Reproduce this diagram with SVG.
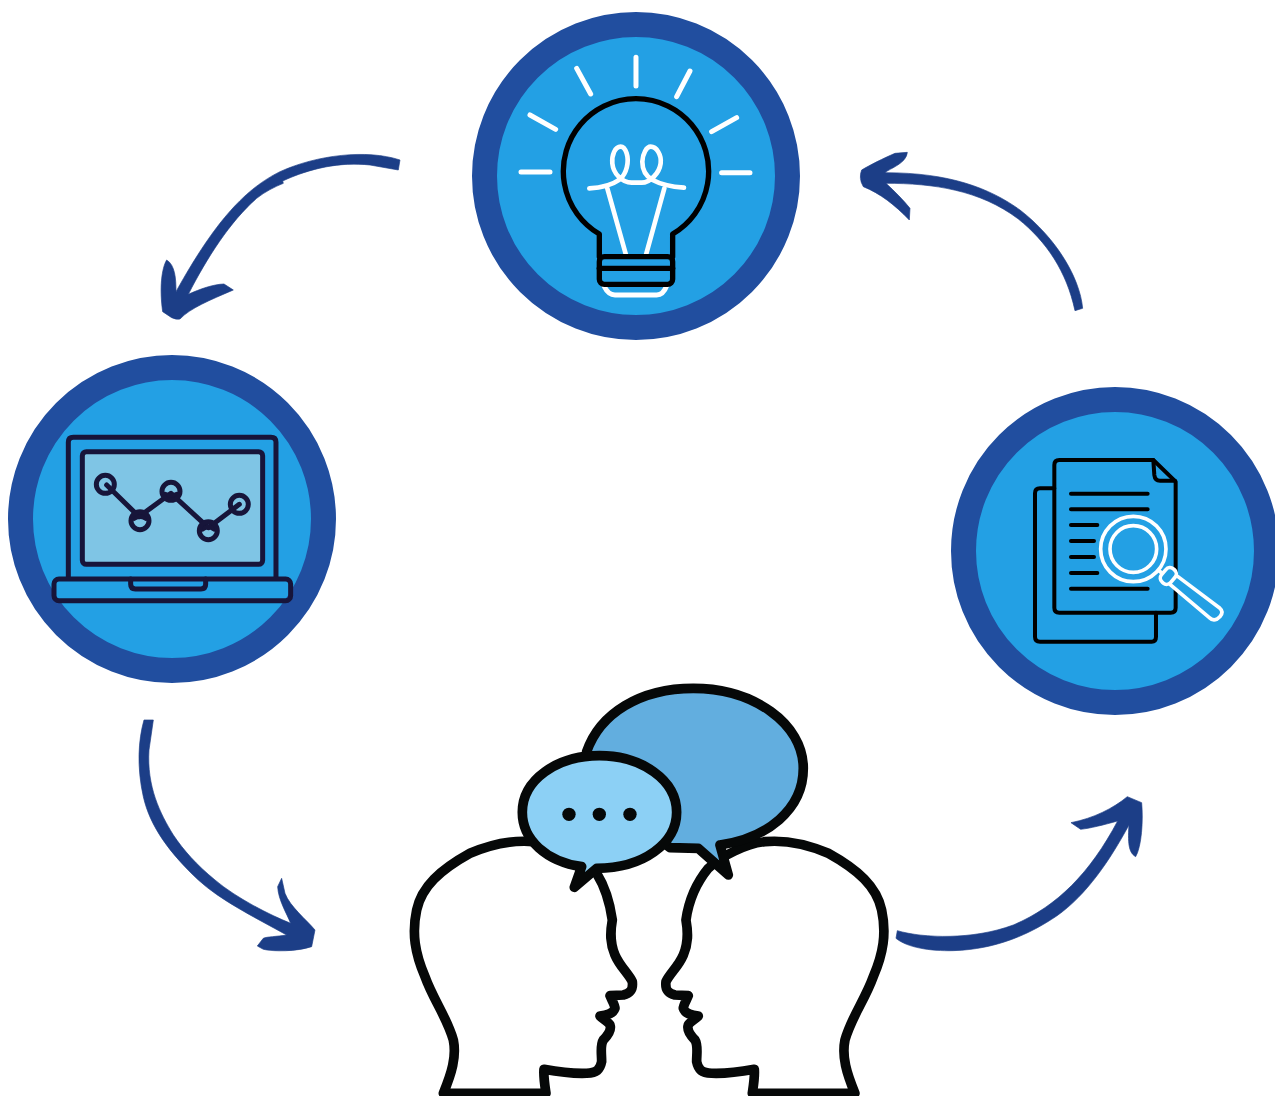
<svg xmlns="http://www.w3.org/2000/svg" width="1275" height="1096" viewBox="0 0 1275 1096">
<style>
.ring{fill:#23A0E4;stroke:#214E9F;stroke-width:25}
.arrow{fill:#1C3E87;stroke:#1C3E87;stroke-width:2;stroke-linejoin:round}
.w{fill:none;stroke:#fff;stroke-linecap:round;stroke-linejoin:round}
.k{fill:none;stroke:#000;stroke-linecap:round;stroke-linejoin:round}
.l{fill:none;stroke:#17153A;stroke-linecap:round;stroke-linejoin:round;stroke-width:15}
.h{fill:#fff;stroke:#060808;stroke-width:29;stroke-linejoin:round;stroke-linecap:butt}
</style>
<rect width="1275" height="1096" fill="#fff"/>
<g id="connectors">
<path class="arrow" transform="translate(150 145) scale(.3333)" d="M750,45C650,12 500,30 390,80C290,130 200,220 78,440C78,400 75,360 50,345C35,370 28,430 38,500L65,518Q80,525 90,522C120,490 180,465 250,435L222,417C190,418 150,432 115,448C170,340 240,230 320,160C345,140 375,125 400,115L398,108C480,70 570,50 660,60L745,75Z"/>
<path class="arrow" transform="translate(850 145) scale(.3333)" d="M698,490C690,400 620,280 510,195C420,130 300,83 105,83C120,70 170,55 172,22L135,25C100,40 60,60 35,75Q25,100 40,125C90,145 135,180 178,225L180,190C160,165 135,140 108,115C250,115 390,135 505,222C590,290 650,380 675,497Z"/>
<path class="arrow" transform="translate(130 710) scale(.3333)" d="M42,30C25,90 20,170 40,260C60,350 120,430 205,510C270,570 370,620 470,675C440,680 410,680 400,685L382,708L400,718C430,725 500,725 545,710L555,660C530,630 480,590 465,550L455,505L443,530C445,570 470,610 482,640C420,615 320,565 255,510C200,465 160,420 130,375C90,310 50,230 57,120L70,30Z"/>
<path class="arrow" transform="translate(890 790) scale(.3333)" d="M22,422C100,445 250,450 370,405C500,350 600,250 683,93C640,105 600,115 572,118L543,98C610,85 670,55 712,20L755,38C760,90 755,170 737,200C720,190 712,170 717,105C660,210 590,315 500,378C420,432 320,478 190,482C120,484 50,472 18,445Z"/>
</g>
<g id="node-idea">
<circle class="ring" cx="636" cy="176" r="151.5"/>
<g transform="translate(500 40) scale(.3333)">
<g class="w" stroke-width="15">
<path d="M408,52V138M230,85L272,162M570,93L530,170M90,225L167,268M710,233L635,275M63,396H150M665,398H750"/>
<path d="M312,738Q325,765 345,765H470Q490,765 500,738"/>
</g>
<g class="w" stroke-width="14">
<path d="M268,445C310,443 340,432 360,418C380,400 388,365 380,340C375,325 368,320 362,320C345,320 335,345 337,370C340,400 365,428 395,428L425,428C450,428 478,400 482,370C485,345 470,320 452,320C440,320 428,340 427,365C427,390 440,410 458,420C480,432 510,440 552,443"/>
<path d="M322,445L378,645M493,445L438,645"/>
</g>
<g class="k" stroke-width="16">
<path d="M298,650V582A218,218 0 1 1 518,582V650"/>
<rect x="298" y="650" width="220" height="83" rx="15"/>
<path d="M298,685H518"/>
</g>
</g>
</g>
<g id="node-analysis">
<circle class="ring" cx="172" cy="519" r="151.5"/>
<g transform="translate(40 425) scale(.3333)">
<path class="l" d="M85,460V52Q85,37 100,37H693Q708,37 708,52V460"/>
<rect class="l" x="127" y="80" width="541" height="338" rx="12" style="fill:#7FC5E5"/>
<rect class="l" x="42" y="462" width="710" height="65" rx="15"/>
<path class="l" d="M272,462V478Q272,492 286,492H483Q497,492 497,478V462"/>
<path class="l" d="M200,180L297,275L393,205L505,308L598,238"/>
<path class="l" d="M283,280Q300,268 317,280M376,208Q393,220 410,208M488,312Q505,300 522,312"/>
<g class="l"><circle cx="196" cy="178" r="27"/><circle cx="300" cy="287" r="27"/><circle cx="393" cy="199" r="27"/><circle cx="505" cy="317" r="27"/><circle cx="598" cy="238" r="27"/></g>
</g>
</g>
<g id="node-research">
<circle class="ring" cx="1115" cy="551" r="151.5"/>
<g transform="translate(1020 445) scale(.3333)">
<g class="k" stroke-width="12">
<path d="M103,130H60Q45,130 45,145V575Q45,590 60,590H395Q408,590 408,575V503"/>
<path d="M400,45H118Q103,45 103,60V488Q103,503 118,503H452Q467,503 467,488V110Z"/>
<path d="M400,45L403,90Q405,107 420,107H465"/>
<path d="M153,146H383M153,193H383M153,240H232M153,288H222M153,336H222M153,384H232M153,431H383"/>
</g>
<g class="w" stroke-width="11">
<circle cx="340" cy="312" r="98"/>
<circle cx="340" cy="312" r="70"/>
<path d="M418,378L435,392"/>
<path d="M470,392L600,490Q612,500 600,515L590,523Q578,528 568,518L450,418" style="fill:#23A0E4"/>
<rect x="-26" y="-18" width="52" height="36" rx="16" transform="translate(445 393) rotate(-50)" style="fill:#23A0E4"/>
</g>
</g>
</g>
<g id="node-discussion" transform="translate(400 680) scale(.3333)">
<path class="h" d="M130,1240C155,1180 170,1130 160,1080C140,1010 100,960 75,890C45,820 35,760 50,690C65,620 120,570 210,520C280,490 340,480 400,485C450,490 550,530 590,580C615,620 630,670 637,720C630,760 630,790 645,825C660,860 685,880 697,905C700,930 690,940 670,945L630,947C635,960 645,975 645,985C640,1000 625,1005 600,1008C610,1018 625,1025 630,1035C635,1050 625,1065 610,1080C600,1095 605,1120 605,1145C600,1170 590,1178 560,1180C510,1182 470,1175 432,1168C430,1190 435,1220 438,1240Z"/>
<path class="h" d="M1365,1240C1340,1180 1325,1130 1335,1080C1355,1010 1395,960 1420,890C1450,820 1460,760 1445,690C1430,620 1375,570 1285,520C1215,490 1150,480 1095,485C1040,490 960,530 925,565C880,620 865,670 858,720C865,760 865,790 850,825C835,860 810,880 798,905C795,930 805,940 825,945L865,947C860,960 850,975 850,985C855,1000 870,1005 895,1008C885,1018 870,1025 865,1035C860,1050 870,1065 885,1080C895,1095 890,1120 890,1145C895,1170 905,1178 935,1180C985,1182 1025,1175 1063,1168C1065,1190 1060,1220 1057,1240Z"/>
<path class="h" style="fill:#62AEDF" d="M960,495C1100,475 1210,390 1210,265C1210,130 1060,25 880,25C720,25 600,100 560,215L700,420L810,503L895,505L985,585Z"/>
<path class="h" style="fill:#8CD0F5" d="M590,565C730,565 830,490 830,397C830,300 725,227 598,227C470,227 367,300 367,397C367,480 440,545 545,560L523,622Z"/>
<circle cx="507" cy="403" r="20" fill="#060808"/><circle cx="598" cy="403" r="20" fill="#060808"/><circle cx="690" cy="403" r="20" fill="#060808"/>
</g>
</svg>
